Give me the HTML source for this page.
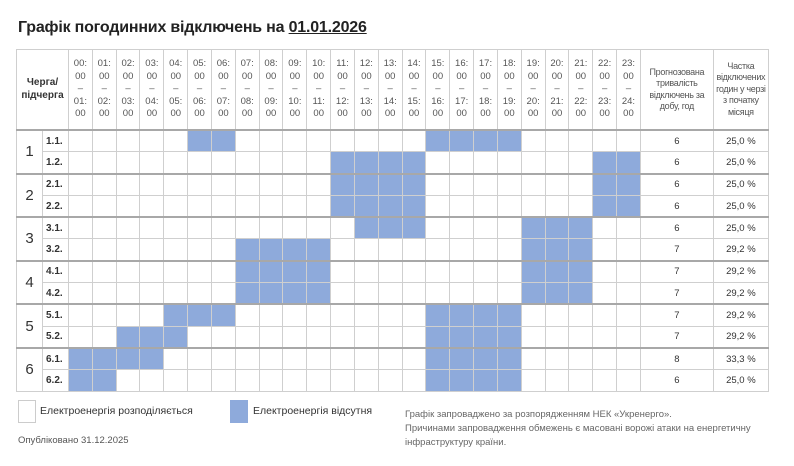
<!DOCTYPE html>
<html><head><meta charset="utf-8"><style>
body{margin:0;width:794px;height:466px;background:#fff;font-family:"Liberation Sans",sans-serif;color:#333;position:relative;overflow:hidden}
.title{position:absolute;left:18px;top:19px;font-size:16px;font-weight:bold;color:#222;letter-spacing:-0.2px}
.title u{text-decoration:underline}
table{position:absolute;left:16px;top:49px;border-collapse:collapse;table-layout:fixed;font-size:9.5px}
td{border:1px solid #cfcfcf;padding:0;text-align:center;height:20.3px;color:#333}
th{border:1px solid #cfcfcf;font-weight:normal;color:#555;padding:0;height:79px;line-height:12.4px;font-size:9.5px}
th.w{font-size:9px;letter-spacing:-0.3px;line-height:11.5px}
th.q{font-weight:bold;color:#333;font-size:10px}
td.b{background:#8eaadb}
td.n{font-size:15px}
td.s{font-weight:bold;text-align:left;padding-left:3px;font-size:10px}
tr.g td{border-top:2px solid #a8a8a8}
.lg{position:absolute;font-size:10.5px;color:#333}
.box{position:absolute;width:16px;height:21px;border:1px solid #ccc}
.note{position:absolute;left:405px;top:408px;font-size:9.5px;color:#666;line-height:14px}
</style></head><body>
<div class="title">Графік погодинних відключень на <u>01.01.2026</u></div>
<table id="t">
<colgroup><col style="width:26px"><col style="width:26px">
<col span="24" style="width:23.83px"><col style="width:73px"><col style="width:55px"></colgroup>
<tr><th class="q" colspan="2">Черга/<br>підчерга</th>
<th>00:<br>00<br>–<br>01:<br>00</th><th>01:<br>00<br>–<br>02:<br>00</th><th>02:<br>00<br>–<br>03:<br>00</th><th>03:<br>00<br>–<br>04:<br>00</th><th>04:<br>00<br>–<br>05:<br>00</th><th>05:<br>00<br>–<br>06:<br>00</th><th>06:<br>00<br>–<br>07:<br>00</th><th>07:<br>00<br>–<br>08:<br>00</th><th>08:<br>00<br>–<br>09:<br>00</th><th>09:<br>00<br>–<br>10:<br>00</th><th>10:<br>00<br>–<br>11:<br>00</th><th>11:<br>00<br>–<br>12:<br>00</th><th>12:<br>00<br>–<br>13:<br>00</th><th>13:<br>00<br>–<br>14:<br>00</th><th>14:<br>00<br>–<br>15:<br>00</th><th>15:<br>00<br>–<br>16:<br>00</th><th>16:<br>00<br>–<br>17:<br>00</th><th>17:<br>00<br>–<br>18:<br>00</th><th>18:<br>00<br>–<br>19:<br>00</th><th>19:<br>00<br>–<br>20:<br>00</th><th>20:<br>00<br>–<br>21:<br>00</th><th>21:<br>00<br>–<br>22:<br>00</th><th>22:<br>00<br>–<br>23:<br>00</th><th>23:<br>00<br>–<br>24:<br>00</th>
<th class="w">Прогнозована тривалість відключень за добу, год</th><th class="w">Частка відключених годин у черзі з початку місяця</th></tr>
</table>
<div class="box" style="left:18px;top:400px"></div>
<div class="lg" style="left:40px;top:405px">Електроенергія розподіляється</div>
<div class="box" style="left:230px;top:400px;background:#8eaadb;border-color:#8eaadb"></div>
<div class="lg" style="left:253px;top:405px">Електроенергія відсутня</div>
<div class="lg" style="left:18px;top:435px;font-size:9.5px;color:#555">Опубліковано 31.12.2025</div>
<div class="note">Графік запроваджено за розпорядженням НЕК «Укренерго».<br>Причинами запровадження обмежень є масовані ворожі атаки на енергетичну<br>інфраструктуру країни.</div>
<script>
var rows=[["1.1.",[5,6,15,16,17,18],6,"25,0 %"],["1.2.",[11,12,13,14,22,23],6,"25,0 %"],
["2.1.",[11,12,13,14,22,23],6,"25,0 %"],["2.2.",[11,12,13,14,22,23],6,"25,0 %"],
["3.1.",[12,13,14,19,20,21],6,"25,0 %"],["3.2.",[7,8,9,10,19,20,21],7,"29,2 %"],
["4.1.",[7,8,9,10,19,20,21],7,"29,2 %"],["4.2.",[7,8,9,10,19,20,21],7,"29,2 %"],
["5.1.",[4,5,6,15,16,17,18],7,"29,2 %"],["5.2.",[2,3,4,15,16,17,18],7,"29,2 %"],
["6.1.",[0,1,2,3,15,16,17,18],8,"33,3 %"],["6.2.",[0,1,15,16,17,18],6,"25,0 %"]];
var h="";
rows.forEach(function(r,i){
 h+='<tr'+(i%2==0?' class="g"':'')+'>';
 if(i%2==0)h+='<td class="n" rowspan="2">'+(i/2+1)+'</td>';
 h+='<td class="s">'+r[0]+'</td>';
 for(var k=0;k<24;k++)h+='<td'+(r[1].indexOf(k)>=0?' class="b"':'')+'></td>';
 h+='<td>'+r[2]+'</td><td>'+r[3]+'</td></tr>';
});
document.getElementById('t').insertAdjacentHTML('beforeend',h);
</script>
</body></html>
